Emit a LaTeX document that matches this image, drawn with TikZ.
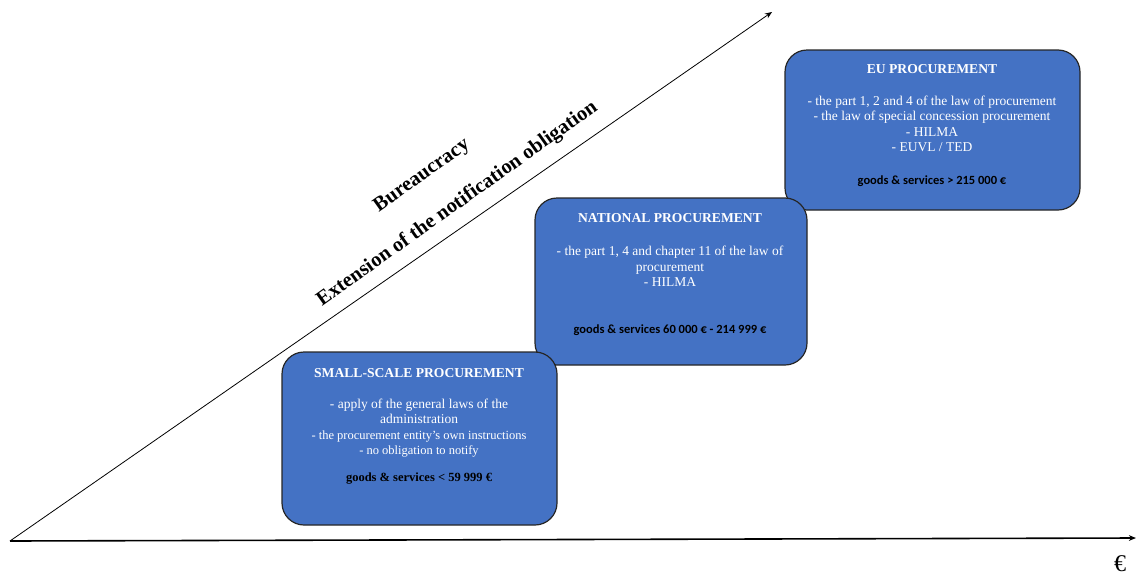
\documentclass[tikz,border=0pt]{standalone}
\usepackage{fontspec}
\setmainfont{Liberation Serif}
\newfontfamily\calibri{Carlito}
\usetikzlibrary{arrows.meta, positioning}
\definecolor{procblue}{RGB}{68,114,196}

\begin{document}
\begin{tikzpicture}[x=1pt, y=-1pt,
  arr/.style={-{Stealth[length=2.5mm, width=2mm]}},
  box/.style={draw=black!85, fill=procblue, line width=1.2pt,
    rounded corners=22pt, inner sep=0pt},
  head/.style={text=white, font=\fontsize{13.6}{15}\selectfont\bfseries},
  body/.style={text=white, align=center, inner sep=0pt,
    font=\fontsize{13.5}{15.5}\selectfont},
  price/.style={font=\calibri\fontsize{12.5}{14}\selectfont\bfseries},
  slant/.style={rotate=35.5, align=center, inner sep=0pt,
    font=\fontsize{20.5}{44}\selectfont\bfseries}
]
  \useasboundingbox (0,0) rectangle (1136,576);

  % axes
  \coordinate (O) at (10,541);
  \coordinate (xend) at (1136,538);
  \coordinate (yend) at (772,12);
  \draw[arr, line width=1.6pt] (O) -- (xend);
  \draw[arr, line width=0.8pt] (O) -- (yend);
  \node[font=\fontsize{24}{26}\selectfont] (euro) at (1120,564) {€};

  \node[slant] (bur) at (445,186.5)
    {Bureaucracy\hspace*{25pt}\\Extension of the notification obligation};

  % the three levels
  \node[box, minimum width=295pt, minimum height=160pt] (eu) at (932.5,130) {};
  \node[box, minimum width=272pt, minimum height=167pt] (nat) at (671,281.5) {};
  \node[box, minimum width=275pt, minimum height=173pt] (small) at (419.5,438.5) {};

  \node[head] (euT) at (932,69) {EU PROCUREMENT};
  \node[body] (euB) at (932,124) {- the part 1, 2 and 4 of the law of procurement\\
    - the law of special concession procurement\\- HILMA\\- EUVL / TED};
  \node[price] (euP) at (932,181) {goods \& services > 215 000 €};

  \node[head] (natT) at (670,218) {NATIONAL PROCUREMENT};
  \node[body] (natB) at (670,266.5) {- the part 1, 4 and chapter 11 of the law of\\
    procurement\\- HILMA};
  \node[price] (natP) at (670,330) {goods \& services 60 000 € - 214 999 €};

  \node[head] (smallT) at (419,373) {SMALL-SCALE PROCUREMENT};
  \node[body, font=\fontsize{13.5}{15.5}\selectfont] (smallB) at (419,428)
    {- apply of the general laws of the\\administration\\
     {\fontsize{12.5}{15}\selectfont - the procurement entity's own instructions}\\
     {\fontsize{12.5}{15}\selectfont - no obligation to notify}};
  \node[font=\fontsize{12.5}{14}\selectfont\bfseries] (smallP) at (419,479)
    {goods \& services < 59 999 €};
\end{tikzpicture}
\end{document}
